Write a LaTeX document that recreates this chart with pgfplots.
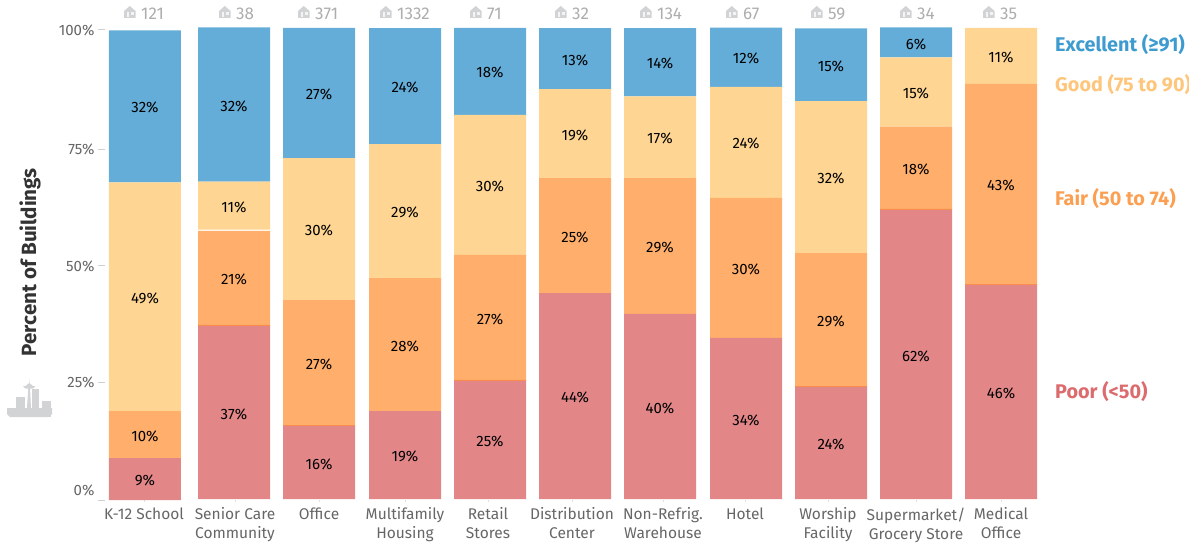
\documentclass[border=0pt]{standalone}
\usepackage{pgfplots}
\usepackage{pgfplotstable}
\usepackage{fontspec}
\setmainfont{Fira Sans}
\pgfplotsset{compat=1.18}
\definecolor{cblue}{HTML}{64ADD9}
\definecolor{cgood}{HTML}{FED592}
\definecolor{cfair}{HTML}{FFAF6B}
\definecolor{cpoor}{HTML}{E28688}
\definecolor{cedge}{HTML}{F98D50}
\definecolor{tblue}{HTML}{3E9BD0}
\definecolor{tgood}{HTML}{FDC67C}
\definecolor{tfair}{HTML}{FB9F52}
\definecolor{tpoor}{HTML}{DC6B6E}
\definecolor{ticon}{HTML}{D2D3D4}
\pgfplotstableread{
x y
145 0
234 0.2
319 0.2
405 0.2
490 0.2
575 0.2
660 0.2
746 0.2
831 0.2
916 0.2
1001 0.2
}\tbase
\pgfplotstableread{
x y lab
145 8.9 9
234 36.8 37
319 15.5 16
405 18.7 19
490 25.1 25
575 43.8 44
660 39.4 40
746 34.3 34
831 23.8 24
916 61.5 62
1001 45.5 46
}\tpoordata
\pgfplotstableread{
x y
145 0
234 0.25
319 0.25
405 0
490 0.25
575 0
660 0
746 0
831 0.25
916 0.25
1001 0.25
}\tedge
\pgfplotstableread{
x y lab
145 10.0 10
234 20.0 21
319 26.6 27
405 28.3 28
490 26.6 27
575 24.5 25
660 28.9 29
746 29.8 30
831 28.3 29
916 17.5 18
1001 42.6 43
}\tfairdata
\pgfplotstableread{
x y
145 0
234 0.3
319 0
405 0
490 0
575 0
660 0
746 0
831 0
916 0
1001 0
}\tgap
\pgfplotstableread{
x y lab
145 48.7 49
234 10.2 11
319 30.2 30
405 28.5 29
490 29.8 30
575 18.9 19
660 17.4 17
746 23.6 24
831 32.3 32
916 14.7 15
1001 11.9 11
}\tgooddata
\pgfplotstableread{
x y lab
145 32.3 32
234 32.8 32
319 27.7 27
405 24.7 24
490 18.5 18
575 13.0 13
660 14.5 14
746 12.6 12
831 15.5 15
916 6.4 6
}\tbluedata
\tikzset{house/.pic={
  \fill[ticon] (0,0) -- (0,7) -- (5.75,12) -- (11.5,7) -- (11.5,0) -- cycle;
  \fill[ticon!25!white] (2.5,1) rectangle (5,6);
  \fill[ticon!25!white] (6.5,2.5) rectangle (9.5,6);
}}
\begin{document}
\begin{tikzpicture}[x=1pt,y=1pt]
\path[use as bounding box] (0,0) rectangle (1189,542);
\begin{axis}[
  at={(105pt,42pt)}, anchor=south west,
  scale only axis, width=932pt, height=470pt,
  xmin=105, xmax=1037, ymin=0, ymax=100,
  clip=false,
  ybar stacked, bar width=72pt,
  axis line style={draw=none},
  axis x line*=bottom, axis y line*=left,
  xtick={144,235,319,405,488,572,663,745,828,916,1001},
  xticklabels={K-12 School,Senior Care\\Community,Office,Multifamily\\Housing,Retail\\Stores,Distribution\\Center,Non-Refrig.\\Warehouse,Hotel,Worship\\Facility,Supermarket/\\Grocery Store,Medical\\Office},
  x tick label style={align=center, font=\fontsize{15.5}{19}\selectfont, text=black!60, yshift=3pt},
  ytick={0,25,49.8,74.5,100},
  yticklabels={\raisebox{20pt}{0\%},25\%,50\%,75\%,100\%},
  y tick label style={font=\fontsize{15}{18}\selectfont, text=black!60},
  tick style={draw=black!18, line width=1pt},
  major tick length=7pt,
  x tick style={draw=black!12, line width=0.6pt, /pgfplots/major tick length=2pt},
  tick align=outside,
  ylabel={Percent of Buildings},
  every axis y label/.style={at={(axis cs:30,50.6)}, rotate=90, anchor=center, font=\bfseries\fontsize{20.6}{24}\selectfont, text=black!80},
  lab/.style={
    point meta=explicit,
    nodes near coords={\pgfmathprintnumber[assume math mode=true,precision=0]{\pgfplotspointmeta}\%},
    every node near coord/.style={anchor=center, yshift=-1.5pt, font=\fontsize{15}{18}\selectfont, text=black},
  },
]
\addplot[draw=none, fill=none] table[x=x,y=y] {\tbase};
\addplot[draw=none, fill=cpoor, lab] table[x=x,y=y,meta=lab] {\tpoordata};
\addplot[draw=none, fill=cedge] table[x=x,y=y] {\tedge};
\addplot[draw=none, fill=cfair, lab] table[x=x,y=y,meta=lab] {\tfairdata};
\addplot[draw=none, fill=white] table[x=x,y=y] {\tgap};
\addplot[draw=none, fill=cgood, lab] table[x=x,y=y,meta=lab] {\tgooddata};
\addplot[draw=none, fill=cblue, lab] table[x=x,y=y,meta=lab] {\tbluedata};
\end{axis}
% counts above the bars
\foreach \ix/\n in {124/121,219/38,298/371,380/1332,470/71,555/32,640/134,726/67,811/59,900/34,983/35}{
  \pic at (\ix,524) {house};
  \node[anchor=west, inner sep=0pt, text=black!32, font=\fontsize{17}{20}\selectfont] at ({\ix+17},528.5) {\n};
}
% rating names
\begin{scope}[every node/.style={anchor=west, inner sep=0pt, font=\bfseries\fontsize{19.8}{23}\selectfont}]
\node[text=tblue] at (1055,497) {Excellent (≥91)};
\node[text=tgood] at (1055,457) {Good (75 to 90)};
\node[text=tfair] at (1055,343) {Fair (50 to 74)};
\node[text=tpoor] at (1055,150) {Poor (<50)};
\end{scope}
% skyline
\fill[ticon] (16,125) rectangle (25,145);
\fill[ticon] (32,125) rectangle (39,153);
\fill[ticon] (42,125) rectangle (51,141);
\fill[ticon] (7,134) -- (52,134) -- (52,128) -- (49,125) -- (10,125) -- (7,128) -- cycle;
\fill[ticon] (27,134) -- (28.3,154) -- (30,154) -- (31,134) -- cycle;
\fill[ticon] (23,156) -- (35.5,156) -- (33,153.5) -- (25.5,153.5) -- cycle;
\fill[ticon] (25.5,156) -- (33,156) -- (30,158.5) -- (28.5,158.5) -- cycle;
\fill[ticon] (28.9,158) -- (29.2,163) -- (29.6,158) -- cycle;
\end{tikzpicture}
\end{document}
